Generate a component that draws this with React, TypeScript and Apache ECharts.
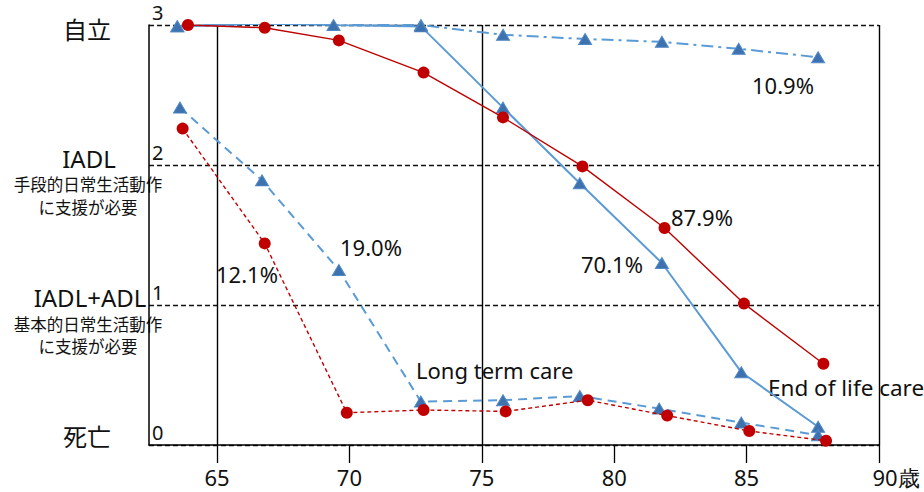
import React, { useEffect, useRef } from 'react';
import * as echarts from 'echarts';

// ---- axis ticks ----
const X_TICKS = [65, 70, 75, 80, 85, 90];
const X_LAST_SUFFIX = '歳';
const REF_AGES = [65, 75, 90];

// ---- Men (blue triangles) ----
const MEN_INDEP_PCT = '10.9%';
const MEN_INDEP_AGES = [63.5, 66.5, 69.4, 72.7, 75.8, 78.9, 81.8, 84.7, 87.7];
const MEN_INDEP_LEVELS = [2.99, 3.01, 3.01, 3.0, 2.93, 2.9, 2.88, 2.83, 2.77];

const MEN_GRAD_PCT = '70.1%';
const MEN_GRAD_AGES = [63.5, 66.5, 69.4, 72.7, 75.8, 78.7, 81.8, 84.8, 87.7];
const MEN_GRAD_LEVELS = [2.99, 3.01, 3.0, 2.99, 2.41, 1.87, 1.3, 0.52, 0.13];

const MEN_EARLY_PCT = '19.0%';
const MEN_EARLY_AGES = [63.6, 66.7, 69.6, 72.7, 75.8, 78.7, 81.7, 84.8, 87.7];
const MEN_EARLY_LEVELS = [2.41, 1.89, 1.25, 0.31, 0.32, 0.35, 0.26, 0.16, 0.07];

// ---- Women (red circles) ----
const WOMEN_GRAD_PCT = '87.9%';
const WOMEN_GRAD_AGES = [63.9, 66.8, 69.6, 72.8, 75.8, 78.8, 81.9, 84.9, 87.9];
const WOMEN_GRAD_LEVELS = [3.0, 2.98, 2.89, 2.66, 2.34, 1.99, 1.55, 1.01, 0.58];

const WOMEN_EARLY_PCT = '12.1%';
const WOMEN_EARLY_AGES = [63.7, 66.8, 69.9, 72.8, 75.9, 79.0, 82.0, 85.1, 88.0];
const WOMEN_EARLY_LEVELS = [2.26, 1.44, 0.23, 0.25, 0.24, 0.32, 0.21, 0.1, 0.03];

const SANS = '"Noto Sans", "Open Sans", sans-serif';
const CJK = '"Noto Sans CJK JP", "Noto Sans", sans-serif';

const BLUE = '#5b9bd5';
const BLUE_MARK = '#3e72ae';
const RED = '#c00000';

const pairs = (xs: number[], ys: number[]) => xs.map((x, i) => [x, ys[i]]);

function text(t: string, x: number, y: number, size: number, family: string, align = 'center') {
  return {
    type: 'text',
    x,
    y,
    silent: true,
    style: {
      text: t,
      fill: '#111',
      fontSize: size,
      fontFamily: family,
      align,
      verticalAlign: 'middle',
    },
  };
}

export default function App() {
  const ref = useRef<HTMLDivElement>(null);

  useEffect(() => {
    if (!ref.current) return;
    const chart = echarts.init(ref.current, undefined, { renderer: 'svg' });

    const blueSeries = (name: string, data: number[][], dash: any) => ({
      name,
      type: 'line',
      data,
      symbol: 'triangle',
      symbolSize: [13, 11],
      itemStyle: { color: BLUE_MARK, borderColor: '#4f88c6', borderWidth: 1 },
      lineStyle: { color: BLUE, width: 2, type: dash },
      z: 2,
    });
    const redSeries = (name: string, data: number[][], dash: any, width: number) => ({
      name,
      type: 'line',
      data,
      symbol: 'circle',
      symbolSize: 12,
      itemStyle: { color: RED, borderWidth: 0 },
      lineStyle: { color: RED, width, type: dash },
      z: 3,
    });

    const option: any = {
      animation: false,
      backgroundColor: '#ffffff',
      grid: { left: 149, right: 45, top: 25, bottom: 47, containLabel: false },
      xAxis: {
        type: 'value',
        min: 62.43,
        max: 90,
        axisLine: { show: true, lineStyle: { color: '#000', width: 1.5 } },
        axisTick: {
          show: true,
          customValues: X_TICKS,
          length: 18,
          lineStyle: { color: '#000', width: 1.3 },
        },
        axisLabel: {
          customValues: X_TICKS,
          margin: 21,
          color: '#111',
          fontSize: 22,
          lineHeight: 22,
          fontFamily: SANS,
          formatter: (v: number) =>
            v === X_TICKS[X_TICKS.length - 1] ? `{last|${v}${X_LAST_SUFFIX}}` : String(v),
          rich: {
            last: {
              padding: [0, 0, 0, 34],
              fontSize: 22,
              lineHeight: 22,
              fontFamily: SANS,
              color: '#111',
            },
          },
        },
        splitLine: { show: false },
      },
      yAxis: {
        type: 'value',
        min: 0,
        max: 3,
        interval: 1,
        axisLine: { show: true, lineStyle: { color: '#000', width: 1.5 } },
        axisTick: { show: false },
        axisLabel: {
          inside: true,
          margin: 3,
          verticalAlign: 'bottom',
          padding: [0, 0, 3, 0],
          color: '#111',
          fontSize: 20,
          fontFamily: SANS,
        },
        splitLine: { show: true, lineStyle: { color: '#111', width: 1.3, type: [5, 3] } },
      },
      series: [
        {
          ...blueSeries('men-indep', pairs(MEN_INDEP_AGES, MEN_INDEP_LEVELS), [12, 5, 3, 5]),
          markLine: {
            silent: true,
            symbol: 'none',
            label: { show: false },
            lineStyle: { color: '#000', width: 1.4, type: 'solid' },
            data: REF_AGES.map((a) => ({ xAxis: a })),
            z: 1,
          },
        },
        blueSeries('men-grad', pairs(MEN_GRAD_AGES, MEN_GRAD_LEVELS), 'solid'),
        blueSeries('men-early', pairs(MEN_EARLY_AGES, MEN_EARLY_LEVELS), [9, 6]),
        redSeries('women-grad', pairs(WOMEN_GRAD_AGES, WOMEN_GRAD_LEVELS), 'solid', 1.4),
        redSeries('women-early', pairs(WOMEN_EARLY_AGES, WOMEN_EARLY_LEVELS), [4, 3], 1.4),
      ],
      graphic: [
        text('自立', 87, 28, 24, CJK),
        text('IADL', 89, 158, 24, SANS),
        text('手段的日常生活動作', 88, 184, 16.5, CJK),
        text('に支援が必要', 88, 207, 16.5, CJK),
        text('IADL+ADL', 90, 297, 24, SANS),
        text('基本的日常生活動作', 88, 324, 16.5, CJK),
        text('に支援が必要', 88, 346, 16.5, CJK),
        text('死亡', 87, 435, 24, CJK),
        text(MEN_INDEP_PCT, 783, 85, 22, SANS),
        text(WOMEN_GRAD_PCT, 702, 217, 22, SANS),
        text(MEN_GRAD_PCT, 612, 264, 22, SANS),
        text(MEN_EARLY_PCT, 371, 247, 22, SANS),
        text(WOMEN_EARLY_PCT, 247, 274, 22, SANS),
        text('Long term care', 416, 370, 22, SANS, 'left'),
        text('End of life care', 768, 387, 22.5, SANS, 'left'),
      ],
    };

    chart.setOption(option);
    return () => chart.dispose();
  }, []);

  return (
    <div
      ref={ref}
      style={{ position: 'fixed', left: 0, top: 0, width: 924, height: 492, background: '#fff' }}
    />
  );
}
